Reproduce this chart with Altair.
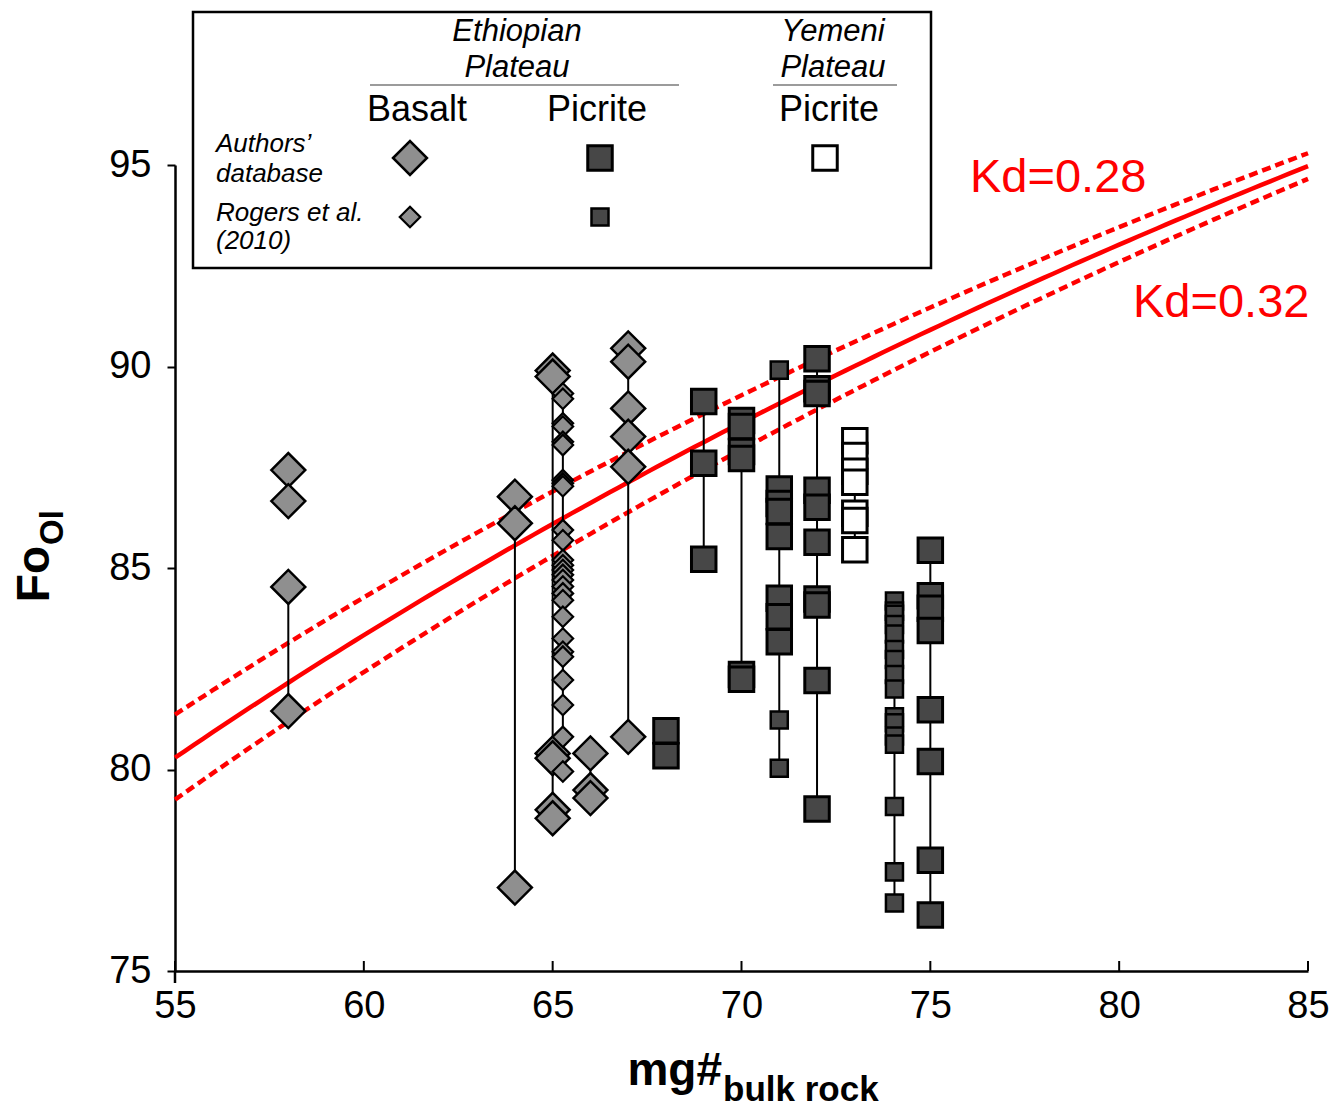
import altair as alt
import numpy as np
import pandas as pd

FONT = "Liberation Sans"
W, H = 1133, 806

# ---- Olivine Fo contents grouped by bulk-rock mg# ----
# Ethiopian Plateau basalts (authors' database)
basalt_authors = {
    58: [87.43, 86.66, 84.53, 81.45],
    64: [86.77, 86.11, 77.07],
    65: [89.90, 89.75, 80.40, 80.28, 79.00, 78.79],
    66: [80.40, 79.49, 79.29],
    67: [90.45, 90.12, 88.96, 88.26, 87.51, 80.81],
}
# Ethiopian Plateau basalts (Rogers et al., 2010)
basalt_rogers = {
    65.27: [89.33, 89.20, 88.59, 88.51, 88.13, 88.05, 87.18, 87.10, 87.03,
            85.94, 85.69, 85.20, 85.07, 84.95, 84.83, 84.70, 84.54, 84.37,
            84.20, 83.79, 83.25, 82.92, 82.80, 82.22, 81.60, 80.81, 79.95],
}
# Ethiopian Plateau picrites (authors' database)
picrite_authors = {
    68: [80.96, 80.34],
    69: [89.13, 87.60, 85.22],
    70: [88.66, 88.51, 87.89, 87.72, 82.36, 82.24],
    71: [86.96, 86.60, 86.40, 85.78, 84.25, 83.79, 83.17],
    72: [90.19, 89.45, 89.33, 86.93, 86.51, 85.64, 84.23, 84.08, 82.21, 79.02],
    75: [85.44, 84.31, 84.00, 83.45, 81.48, 80.20, 77.75, 76.39],
}
# Ethiopian Plateau picrites (Rogers et al., 2010)
picrite_rogers = {
    71: [89.91, 81.23, 80.03],
    74.05: [84.18, 83.93, 83.85, 83.60, 83.36, 82.98, 82.73, 82.36, 82.00,
            81.31, 81.16, 80.83, 80.63, 79.08, 77.46, 76.69],
}
# Yemeni Plateau picrites (authors' database)
picrite_yemen = {
    73: [88.16, 87.79, 87.40, 87.13, 86.36, 86.18, 85.45],
}

# Fo range joined within each sample column
tie_mg = [58, 64, 65, 65.27, 66, 67, 69, 70, 71, 72, 73, 74.05, 75]
tie_top = [84.53, 86.11, 89.75, 89.20, 80.40, 90.12, 89.13, 87.72, 89.91, 90.19, 88.16, 84.18, 85.44]
tie_bottom = [81.45, 77.07, 78.79, 79.95, 79.29, 80.81, 85.22, 82.24, 80.03, 79.02, 85.45, 76.69, 76.39]

# Olivine-melt equilibrium curves
kd_values = [0.28, 0.30, 0.32]
x_ticks = [55, 60, 65, 70, 75, 80, 85]
y_ticks = [75, 80, 85, 90, 95]


def to_frame(groups):
    rows = []
    for mg, fos in groups.items():
        for fo in sorted(fos, reverse=True):
            rows.append({"mg": mg, "fo": fo})
    return pd.DataFrame(rows)


mg_grid = np.linspace(55, 85, 121)
curves = pd.DataFrame(
    [{"mg": m, "fo": 100.0 / (1.0 + kd * (100.0 / m - 1.0)), "kd": kd}
     for kd in kd_values for m in mg_grid]
)
ties = pd.DataFrame({"mg": tie_mg, "top": tie_top, "bottom": tie_bottom})
ticks = pd.DataFrame({"mg": x_ticks})
one = pd.DataFrame({"k": [0]})

X = alt.X("mg:Q",
          scale=alt.Scale(domain=[55, 85], nice=False, zero=False),
          axis=alt.Axis(values=x_ticks, ticks=False, grid=False, title=None,
                        labelFont=FONT, labelFontSize=38, labelColor="black",
                        labelPadding=16, labelFlush=False, labelOverlap=False,
                        domainColor="black", domainWidth=2.5))
Y_AXIS = alt.Axis(values=y_ticks, tickSize=8, tickWidth=2, tickColor="black",
                  grid=False, title=None, labelFont=FONT, labelFontSize=38,
                  labelColor="black", labelPadding=16, labelFlush=False,
                  labelOverlap=False, domainColor="black", domainWidth=2.5)
Y_SCALE = alt.Scale(domain=[75, 95], nice=False, zero=False)
Y = alt.Y("fo:Q", scale=Y_SCALE, axis=Y_AXIS)

RED = "#ff0000"
GRAY = "#8f8f8f"
DARK = "#474747"

solid = alt.Chart(curves).transform_filter("datum.kd == 0.30").mark_line(
    color=RED, strokeWidth=4.5, clip=False
).encode(x=X, y=Y)
dashed = alt.Chart(curves).transform_filter("datum.kd != 0.30").mark_line(
    color=RED, strokeWidth=4.5, strokeDash=[9, 5], clip=False
).encode(x=X, y=Y, detail="kd:N")

tie_rules = alt.Chart(ties).mark_rule(color="black", strokeWidth=2).encode(
    x=X, y=alt.Y("top:Q", scale=Y_SCALE, axis=Y_AXIS), y2="bottom:Q"
)

x_tick_marks = alt.Chart(ticks).mark_rule(color="black", strokeWidth=2).encode(
    x=X, y=alt.value(H), y2=alt.value(H - 10)
)
y_axis_tail = alt.Chart(one).mark_rule(color="black", strokeWidth=2.5).encode(
    x=alt.value(0), y=alt.value(H), y2=alt.value(H + 12)
)

BIG_D = dict(shape="diamond", size=1150, filled=True, fill=GRAY, stroke="black",
             strokeWidth=2.5, opacity=1)
SMALL_D = dict(shape="diamond", size=420, filled=True, fill=GRAY, stroke="black",
               strokeWidth=2.2, opacity=1)
BIG_S = dict(shape="square", size=600, filled=True, fill=DARK, stroke="black",
             strokeWidth=3, opacity=1)
SMALL_S = dict(shape="square", size=290, filled=True, fill=DARK, stroke="black",
               strokeWidth=2.5, opacity=1)
OPEN_S = dict(shape="square", size=600, filled=True, fill="white", stroke="black",
              strokeWidth=3, opacity=1)


def pts(groups, style):
    return alt.Chart(to_frame(groups)).mark_point(**style).encode(x=X, y=Y)


def key(style, px, py):
    return alt.Chart(one).mark_point(**style).encode(x=alt.value(px), y=alt.value(py))


def label(text, px, py, size, style="normal", weight="normal", align="center",
          color="black", angle=0):
    return alt.Chart(one).mark_text(
        text=text, font=FONT, fontSize=size, fontStyle=style, fontWeight=weight,
        align=align, baseline="alphabetic", color=color, angle=angle
    ).encode(x=alt.value(px), y=alt.value(py))


def hline(x1, x2, py, color="black", width=1.5):
    return alt.Chart(one).mark_rule(color=color, strokeWidth=width).encode(
        x=alt.value(x1), x2=alt.value(x2), y=alt.value(py)
    )


# Legend table above the plot
legend_box = alt.Chart(one).mark_rect(
    fill="white", stroke="black", strokeWidth=2.5
).encode(x=alt.value(18), x2=alt.value(756), y=alt.value(-153), y2=alt.value(103))

legend = [
    legend_box,
    label("Ethiopian", 342, -124, 31, style="italic"),
    label("Plateau", 342, -88, 31, style="italic"),
    label("Yemeni", 658, -124, 31, style="italic"),
    label("Plateau", 658, -88, 31, style="italic"),
    hline(195, 504, -80, color="#7a7a7a"),
    hline(598, 722, -80, color="#7a7a7a"),
    label("Basalt", 242, -44, 36),
    label("Picrite", 422, -44, 36),
    label("Picrite", 654, -44, 36),
    label("Authors\u2019", 41, -13, 26, style="italic", align="left"),
    label("database", 41, 17, 26, style="italic", align="left"),
    label("Rogers et al.", 41, 56, 26, style="italic", align="left"),
    label("(2010)", 41, 84, 26, style="italic", align="left"),
    key(BIG_D, 235, -7),
    key(BIG_S, 425, -7),
    key(OPEN_S, 650, -7),
    key(SMALL_D, 235, 52),
    key(SMALL_S, 425, 52),
]

titles = [
    label("Kd=0.28", 795, 27, 47, color=RED, align="left"),
    label("Kd=0.32", 958, 152, 47, color=RED, align="left"),
    label("mg#", 547, 920, 46, weight="bold", align="right"),
    label("bulk rock", 548, 936, 35, weight="bold", align="left"),
    label("Fo", -126, 381, 46, weight="bold", align="right", angle=270),
    label("Ol", -112, 380, 33, weight="bold", align="left", angle=270),
]

chart = alt.layer(
    solid, dashed, tie_rules, x_tick_marks, y_axis_tail,
    pts(basalt_authors, BIG_D),
    pts(basalt_rogers, SMALL_D),
    pts(picrite_authors, BIG_S),
    pts(picrite_rogers, SMALL_S),
    pts(picrite_yemen, OPEN_S),
    *legend,
    *titles,
).properties(
    width=W, height=H,
    autosize=alt.AutoSizeParams(type="none"),
    padding={"left": 175, "top": 165, "right": 22, "bottom": 141},
    background="white",
).configure_view(strokeWidth=0)

chart.save("out.html", embed_options={"renderer": "svg", "actions": False})
